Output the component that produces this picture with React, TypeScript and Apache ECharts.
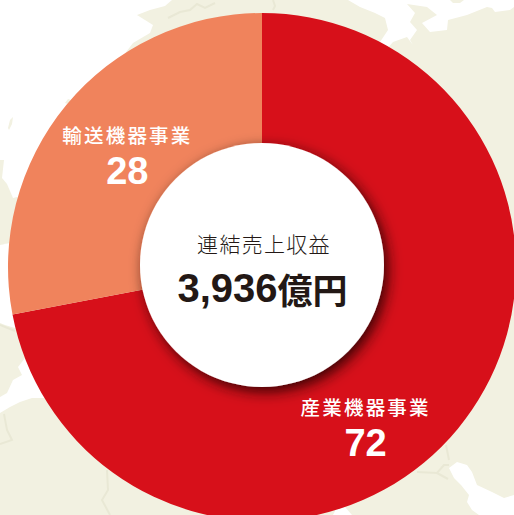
import React, { useEffect, useRef } from "react";
import * as echarts from "echarts";

const categories = ["産業機器事業", "輸送機器事業"];
const shares = [72, 28];
const sliceColors = ["#d7101a", "#f0835c"];
const labelOffsets = [[-42, 38], [11, 7]];
const centerTitle = "連結売上収益";
const centerValue = "3,936";
const centerUnit = "億円";

const BEIGE = "#f2f1e1";
const BORDER = "#e9e8d5";
const NUM_FONT = '"Liberation Sans", Arial, sans-serif';
const CJK_FONT = '"Noto Sans CJK JP", sans-serif';

const seaShapes: number[][][] = [
  [[0, 0], [172, 0], [165, 6], [150, 10], [137, 15], [153, 25], [150, 33], [133, 43], [120, 60], [60, 150], [30, 205], [20, 240], [8, 243], [0, 245], [0, 0]],
];
const topSea: number[][] = [
  [348, 0], [360, 7], [375, 13], [385, 18], [388, 30], [380, 42], [386, 50], [393, 42], [407, 37], [413, 45], [410, 40], [417, 30], [410, 22], [415, 13], [407, 4],
  [427, 7], [437, 15], [422, 23], [430, 32], [447, 30], [448, 20], [467, 15], [487, 7], [492, 8], [495, 12], [510, 10], [514, 7], [514, 0],
];
const westSea: number[][] = [
  [0, 245], [10, 243], [20, 260], [20, 330], [15, 328], [5, 325], [0, 323],
];
const inlet: number[][] = [
  [0, 397], [7, 393], [13, 380], [22, 375], [18, 367], [25, 358], [40, 380], [50, 398], [32, 398], [20, 402], [10, 407], [0, 413],
];
const gulf: number[][] = [
  [449, 468], [457, 462], [467, 465], [472, 472], [477, 485], [492, 492], [504, 498], [514, 495], [514, 515], [479, 515], [472, 510], [467, 502], [469, 495], [461, 485], [454, 478],
];
const southBit: number[][] = [[333, 515], [336, 509], [345, 507], [352, 515]];
const isletA: number[][] = [[450, 0], [464, 0], [460, 3], [453, 3]];
const specks: number[][][] = [
  [[8, 128], [10, 120], [13, 117], [12, 124], [9, 130]],
  [[65, 103], [68, 99], [71, 100], [68, 104]],
  [[0, 160], [4, 160], [2, 178], [7, 184], [13, 198], [17, 197], [26, 205], [26, 243], [8, 243], [0, 245]],
];
const borders: number[][][] = [
  [[4, 414], [7, 430], [12, 440], [0, 444]],
  [[107, 470], [108, 490], [102, 500], [110, 515]],
  [[417, 472], [437, 473], [444, 465], [449, 465]],
  [[437, 473], [448, 479]],
  [[446, 445], [449, 460]],
  [[168, 18], [180, 12], [190, 10], [197, 4], [205, 8], [215, 3]],
  [[0, 325], [15, 331]],
  [[273, 0], [275, 6], [273, 10]],
];

const poly = (points: number[][], fill: string) => ({
  type: "polygon",
  z: 0,
  silent: true,
  shape: { points },
  style: { fill },
});

export default function App() {
  const ref = useRef<HTMLDivElement>(null);
  useEffect(() => {
    document.body.style.margin = "0";
    const chart = echarts.init(ref.current!, null, { renderer: "svg" });
    chart.setOption({
      animation: false,
      backgroundColor: "#ffffff",
      series: [
        {
          type: "pie",
          center: [262, 267],
          radius: [118, 254],
          startAngle: 90,
          clockwise: true,
          silent: true,
          z: 2,
          labelLine: { show: false },
          emphasis: { disabled: true },
          label: {
            show: true,
            position: "inside",
            color: "#fff",
            formatter: (p: any) => `{n|${p.name}}\n{v|${p.value}}`,
            rich: {
              n: { fontFamily: CJK_FONT, fontSize: 19.5, fontWeight: 500, color: "#fff", lineHeight: 35 },
              v: { fontFamily: NUM_FONT, fontSize: 38, fontWeight: 700, color: "#fff", lineHeight: 38 },
            },
          },
          data: categories.map((name, i) => ({
            name,
            value: shares[i],
            itemStyle: { color: sliceColors[i] },
            label: { offset: labelOffsets[i] },
          })),
        },
      ],
      graphic: {
        elements: [
          { type: "rect", z: 0, silent: true, shape: { x: 0, y: 0, width: 514, height: 515 }, style: { fill: BEIGE } },
          ...seaShapes.map((s) => poly(s, "#fff")),
          poly(topSea, "#fff"),
          poly(westSea, "#fff"),
          poly(inlet, "#fff"),
          poly(gulf, "#fff"),
          poly(southBit, "#fff"),
          poly(isletA, BEIGE),
          ...specks.map((s) => poly(s, BEIGE)),
          ...borders.map((points) => ({
            type: "polyline",
            z: 0,
            silent: true,
            shape: { points },
            style: { stroke: BORDER, lineWidth: 2, fill: "none" },
          })),
          {
            type: "circle",
            z: 10,
            silent: true,
            shape: { cx: 262, cy: 265, r: 122 },
            style: { fill: "#fff", shadowColor: "rgba(30,5,5,0.85)", shadowBlur: 14, shadowOffsetX: 4, shadowOffsetY: 5 },
          },
          {
            type: "text",
            z: 11,
            silent: true,
            x: 264,
            y: 243,
            style: { text: centerTitle, fontFamily: CJK_FONT, fontSize: 21, fontWeight: 300, fill: "#231815", align: "center", verticalAlign: "middle" },
          },
          {
            type: "text",
            z: 11,
            silent: true,
            x: 262.5,
            y: 288,
            style: {
              text: `{v|${centerValue}}{u|${centerUnit}}`,
              fill: "#231815",
              align: "center",
              verticalAlign: "middle",
              rich: {
                v: { fontFamily: NUM_FONT, fontSize: 40, fontWeight: 700, fill: "#231815" },
                u: { fontFamily: CJK_FONT, fontSize: 35, fontWeight: 700, fill: "#231815" },
              },
            },
          },
        ],
      },
    });
    ref.current!.querySelectorAll("text").forEach((t) => {
      if (categories.includes(t.textContent || "")) t.style.letterSpacing = "2.2px";
      if (t.textContent === centerTitle) t.style.letterSpacing = "1.3px";
    });
    return () => chart.dispose();
  }, []);
  return <div ref={ref} style={{ width: 514, height: 515 }} />;
}
